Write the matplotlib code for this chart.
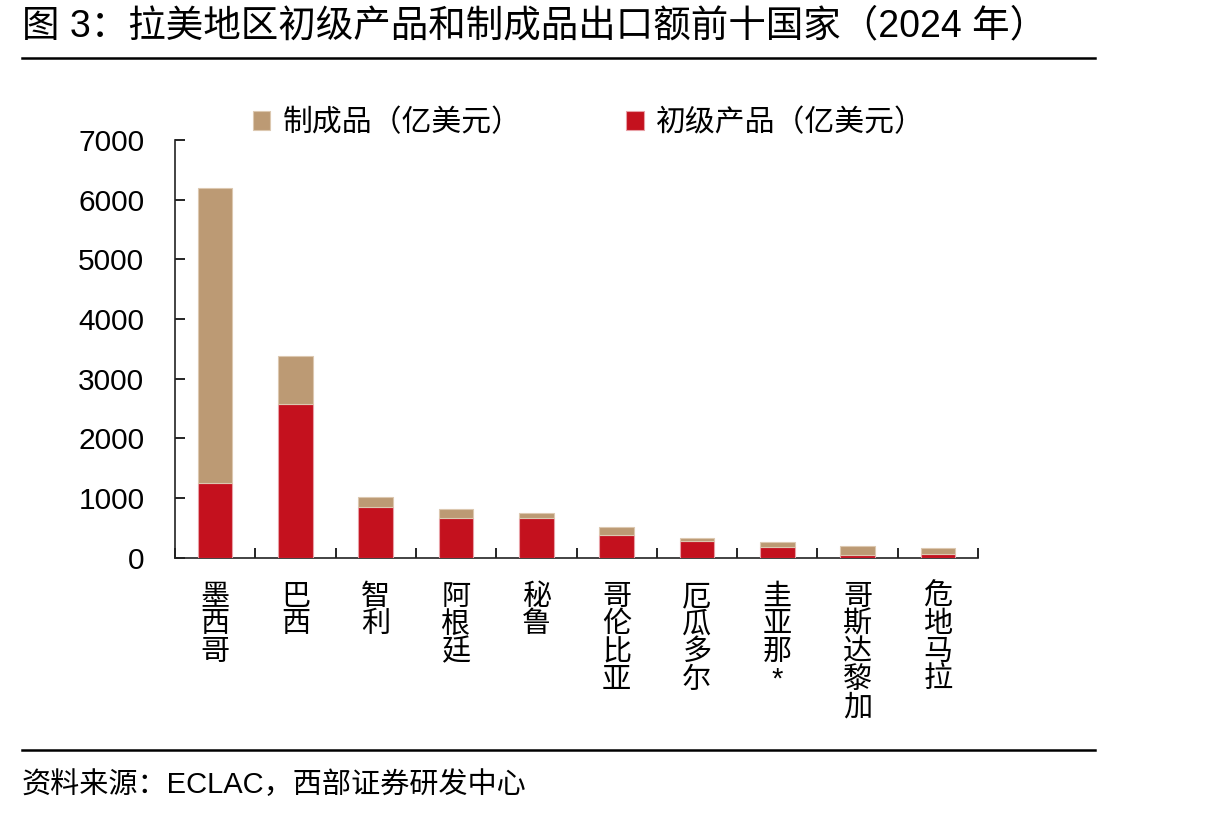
import matplotlib
matplotlib.use('Agg')
import matplotlib.pyplot as plt
from matplotlib.lines import Line2D
from matplotlib.ticker import FixedLocator

plt.rcParams['font.family'] = ['Liberation Sans', 'Noto Sans CJK SC', 'DejaVu Sans']

countries = ['墨西哥', '巴西', '智利', '阿根廷', '秘鲁', '哥伦比亚', '厄瓜多尔', '圭亚那*', '哥斯达黎加', '危地马拉']
primary = [1260, 2580, 850, 670, 665, 380, 280, 180, 45, 67]
manufactured = [4940, 800, 167, 145, 83, 134, 50, 83, 151, 96]
y_ticks = [0, 1000, 2000, 3000, 4000, 5000, 6000, 7000]

c_manu = '#BC9A74'
c_prim = '#C4111E'

fig = plt.figure(figsize=(12.15, 8.18), dpi=100)
ax = fig.add_axes([0.144, 0.318, 0.661, 0.511])

x = list(range(len(countries)))
ax.bar(x, primary, width=0.43, color=c_prim, edgecolor='#E8A0A6', linewidth=0.8,
       label='初级产品（亿美元）', zorder=3)
ax.bar(x, manufactured, bottom=primary, width=0.43, color=c_manu, edgecolor='#DCC8B0',
       linewidth=0.8, label='制成品（亿美元）', zorder=3)

ax.set_xlim(-0.5, 9.5)
ax.set_ylim(0, 7000)
ax.set_yticks(y_ticks)
ax.set_yticklabels([str(v) for v in y_ticks], fontsize=21.5)
ax.tick_params(axis='y', direction='in', length=7, width=1.2, pad=22)

ax.set_xticks(x)
ax.set_xticklabels(['\n'.join(c) for c in countries], fontsize=21, va='top', linespacing=0.98)
ax.tick_params(axis='x', length=0, pad=18)
ax.xaxis.set_minor_locator(FixedLocator([i - 0.5 for i in range(len(countries) + 1)]))
ax.tick_params(axis='x', which='minor', direction='in', length=7, width=1.2)

for s in ['top', 'right']:
    ax.spines[s].set_visible(False)
for s in ['left', 'bottom']:
    ax.spines[s].set_linewidth(1.2)
    ax.spines[s].set_color('#222222')

handles, labels = ax.get_legend_handles_labels()
ax.legend(handles[::-1], labels[::-1], loc='upper center', bbox_to_anchor=(0.515, 1.14),
          ncol=2, frameon=False, fontsize=21.5, handlelength=0.6, handleheight=0.6,
          handletextpad=0.4, columnspacing=3.5)

fig.text(0.018, 0.968, '图 3：拉美地区初级产品和制成品出口额前十国家（2024 年）',
         fontsize=27, va='center', ha='left')
fig.add_artist(Line2D([0.018, 0.901], [0.929, 0.929], color='black', linewidth=1.8))
fig.add_artist(Line2D([0.018, 0.901], [0.083, 0.083], color='black', linewidth=1.8))
fig.text(0.018, 0.040, '资料来源：ECLAC，西部证券研发中心', fontsize=21, va='center', ha='left')

fig.savefig('out.png', dpi=100)
